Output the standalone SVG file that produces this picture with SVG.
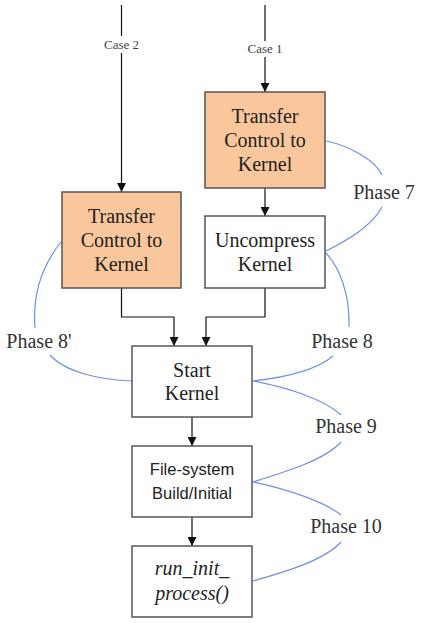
<svg xmlns="http://www.w3.org/2000/svg" width="427" height="623" viewBox="0 0 427 623">
<defs>
<marker id="ah" viewBox="0 0 10 10" refX="10" refY="5" markerWidth="9" markerHeight="9" markerUnits="userSpaceOnUse" orient="auto">
<path d="M0,0 L10,5 L0,10 z" fill="#111"/>
</marker>
<style>
.box{stroke:#555;stroke-width:1.5}
.o{fill:#F9C79B}
.w{fill:#fff}
.t{font-family:"Liberation Serif",serif;font-size:20px;fill:#222;text-anchor:middle}
.s{font-family:"Liberation Sans",sans-serif;font-size:16.5px;fill:#222;text-anchor:middle}
.i{font-style:italic}
.c{font-family:"Liberation Serif",serif;font-size:13px;fill:#444;text-anchor:middle}
.p{font-family:"Liberation Serif",serif;font-size:20px;fill:#333;text-anchor:middle}
.ln{fill:none;stroke:#111;stroke-width:1.2}
.bl{fill:none;stroke:#6f8fe6;stroke-width:1.2}
</style>
</defs>
<rect width="427" height="623" fill="#fff"/>
<g id="connectors">
<path class="ln" d="M121.5,5 V36"/>
<path class="ln" d="M121.5,53 V192" marker-end="url(#ah)"/>
<text class="c" x="121.5" y="48.5">Case 2</text>
<path class="ln" d="M265,5 V41"/>
<path class="ln" d="M265,57 V92" marker-end="url(#ah)"/>
<text class="c" x="265" y="52.5">Case 1</text>
<path class="ln" d="M265,188 V216" marker-end="url(#ah)"/>
<path class="ln" d="M121.5,288 V317 H174 V346" marker-end="url(#ah)"/>
<path class="ln" d="M265,288 V317 H206 V346" marker-end="url(#ah)"/>
<path class="ln" d="M192,417 V446" marker-end="url(#ah)"/>
<path class="ln" d="M192,517 V546" marker-end="url(#ah)"/>
</g>
<g id="phases">
<path class="bl" d="M326,141 C350,146 375,160 382,175"/>
<path class="bl" d="M382,207 C372,226 348,240 326,251"/>
<text class="p" x="384" y="199">Phase 7</text>
<path class="bl" d="M326,253 C340,268 350,295 349,327"/>
<path class="bl" d="M333,356 C314,372 280,378 253,381"/>
<text class="p" x="342" y="348">Phase 8</text>
<path class="bl" d="M61,242 C45,262 32,290 35,328"/>
<path class="bl" d="M50,355 C65,372 100,380 132,381"/>
<text class="p" x="39" y="348">Phase 8'</text>
<path class="bl" d="M253,381 C290,388 325,400 341,415"/>
<path class="bl" d="M341,442 C325,460 285,472 253,482"/>
<text class="p" x="346" y="433">Phase 9</text>
<path class="bl" d="M253,482 C290,490 325,502 341,515"/>
<path class="bl" d="M341,542 C325,560 285,572 253,581"/>
<text class="p" x="346" y="533">Phase 10</text>
</g>
<g id="transfer1">
<rect class="box o" x="205" y="92" width="120" height="96"/>
<text class="t" x="265" y="123">Transfer</text>
<text class="t" x="265" y="147">Control to</text>
<text class="t" x="265" y="171">Kernel</text>
</g>
<g id="transfer2">
<rect class="box o" x="62" y="192" width="119" height="96"/>
<text class="t" x="121.5" y="223">Transfer</text>
<text class="t" x="121.5" y="247">Control to</text>
<text class="t" x="121.5" y="271">Kernel</text>
</g>
<g id="uncompress">
<rect class="box w" x="205" y="216" width="120" height="72"/>
<text class="t" x="265" y="247">Uncompress</text>
<text class="t" x="265" y="271">Kernel</text>
</g>
<g id="start">
<rect class="box w" x="132" y="346" width="120" height="71"/>
<text class="t" x="192" y="377">Start</text>
<text class="t" x="192" y="400">Kernel</text>
</g>
<g id="filesystem">
<rect class="box w" x="132" y="446" width="120" height="71"/>
<text class="s" x="192" y="475">File-system</text>
<text class="s" x="192" y="499">Build/Initial</text>
</g>
<g id="runinit">
<rect class="box w" x="132" y="546" width="120" height="71"/>
<text class="t i" x="192" y="575">run_init_</text>
<text class="t i" x="192" y="600">process()</text>
</g>
</svg>
